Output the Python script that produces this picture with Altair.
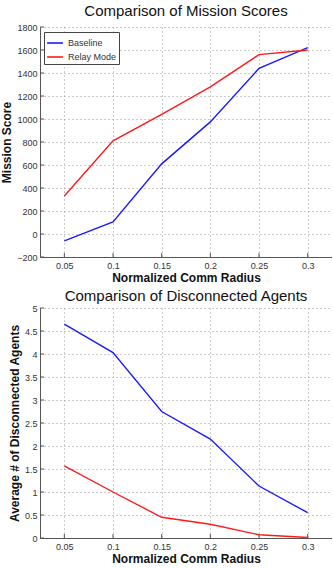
import altair as alt
import pandas as pd

radius = [0.05, 0.1, 0.15, 0.2, 0.25, 0.3]
score_baseline = [-60, 105, 610, 975, 1440, 1620]
score_relay = [330, 810, 1040, 1280, 1560, 1600]
disc_baseline = [4.65, 4.03, 2.75, 2.15, 1.13, 0.55]
disc_relay = [1.57, 1.0, 0.45, 0.3, 0.07, 0.01]
series = ["Baseline", "Relay Mode"]
x_ticks = [0.05, 0.1, 0.15, 0.2, 0.25, 0.3]
score_ticks = list(range(-200, 1801, 200))
disc_ticks = [0, 0.5, 1, 1.5, 2, 2.5, 3, 3.5, 4, 4.5, 5]

W, H = 292, 230
FONT = "Liberation Sans"


def long_table(a, b):
    rows = []
    for x, v in zip(radius, a):
        rows.append({"r": x, "v": v, "s": series[0]})
    for x, v in zip(radius, b):
        rows.append({"r": x, "v": v, "s": series[1]})
    return pd.DataFrame(rows)


def panel(df, title, ytitle, ydomain, yticks, yfmt, legend_pos, title_offset):
    xs = alt.Scale(domain=[0.025, 0.325], nice=False, zero=False)
    ys = alt.Scale(domain=ydomain, nice=False, zero=False)
    xaxis = alt.Axis(values=x_ticks, format="~f", title="Normalized Comm Radius",
                     grid=True, ticks=False, labelPadding=4)
    yaxis = alt.Axis(values=yticks, format=yfmt, title=ytitle, grid=True,
                     ticks=False, labelPadding=3)
    lines = alt.Chart(df).mark_line(strokeWidth=1.4).encode(
        x=alt.X("r:Q", scale=xs, axis=xaxis),
        y=alt.Y("v:Q", scale=ys, axis=yaxis),
        color=alt.Color("s:N", scale=alt.Scale(domain=series, range=["#1a1aff", "#ff1a1a"]),
                        legend=alt.Legend(title=None, orient="none",
                                          legendX=legend_pos[0], legendY=legend_pos[1],
                                          symbolType="stroke", symbolStrokeWidth=1.6,
                                          symbolSize=250, labelFontSize=9,
                                          labelFont=FONT, labelColor="#333",
                                          strokeColor="#444", fillColor="white",
                                          padding=2, rowPadding=0, labelOffset=4)),
    )
    # inward tick marks on the bottom and left axes (same axis specs so they merge)
    xtick_df = pd.DataFrame({"r": x_ticks})
    xticks = alt.Chart(xtick_df).mark_rule(color="#555", strokeWidth=1).encode(
        x=alt.X("r:Q", scale=xs, axis=xaxis),
        y=alt.value(H), y2=alt.value(H - 4),
    )
    ytick_df = pd.DataFrame({"v": yticks})
    yticks_m = alt.Chart(ytick_df).mark_rule(color="#555", strokeWidth=1).encode(
        y=alt.Y("v:Q", scale=ys, axis=yaxis),
        x=alt.value(0), x2=alt.value(4),
    )
    return alt.layer(lines, xticks, yticks_m).properties(
        width=W, height=H,
        title=alt.TitleParams(title, fontSize=15, fontWeight="normal", font=FONT,
                              color="#111", offset=title_offset),
    )


top = panel(long_table(score_baseline, score_relay), "Comparison of Mission Scores",
            "Mission Score", [-200, 1800], score_ticks, "d", (4, 5), 4)
bottom = panel(long_table(disc_baseline, disc_relay), "Comparison of Disconnected Agents",
               "Average # of Disconnected Agents", [0, 5], disc_ticks, "~f", (202, 4), 0)

chart = alt.vconcat(top, bottom, spacing=6).properties(
    padding={"left": 0, "top": 4, "right": 0, "bottom": 0},
    background="white",
).configure_view(stroke=None).configure_axis(
    labelFont=FONT, labelFontSize=9, labelColor="#333",
    titleFont=FONT, titleFontSize=12, titleFontWeight="bold", titleColor="#111",
    domainColor="#555", gridColor="#999", gridDash=[1, 3], gridWidth=1,
).configure_axisY(titlePadding=3, labelPadding=2).configure_axisX(titlePadding=2)

chart.save("out.html", embed_options={"renderer": "svg", "actions": False})
